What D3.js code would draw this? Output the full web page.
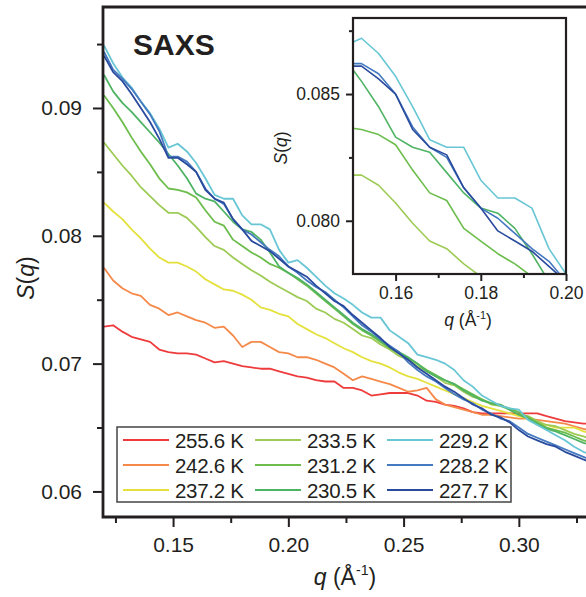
<!DOCTYPE html>
<html>
<head>
<meta charset="utf-8">
<script src="https://cdn.jsdelivr.net/npm/d3@7"></script>
<style>
  body { margin: 0; background: #fff; }
  text { font-family: "Liberation Sans", Arial, Helvetica, sans-serif; fill: #231f20; }
</style>
</head>
<body>
<svg id="chart" width="586" height="597"></svg>
<script>
// Scattering vector grid, q (1/Å)
const q = [0.120,0.124,0.128,0.132,0.136,0.140,0.144,0.148,0.152,0.156,0.160,0.164,0.168,0.172,0.176,0.180,0.184,0.188,0.192,0.196,0.200,0.204,0.208,0.212,0.216,0.220,0.224,0.228,0.232,0.236,0.240,0.244,0.248,0.252,0.256,0.260,0.264,0.268,0.272,0.276,0.280,0.284,0.288,0.292,0.296,0.300,0.304,0.308,0.312,0.316,0.320,0.324,0.328,0.332];

// S(q) per temperature
const s255_6 = [0.0729,0.0730,0.0725,0.0721,0.0719,0.0717,0.0711,0.0709,0.0708,0.0708,0.0707,0.0704,0.0701,0.0702,0.0700,0.0698,0.0697,0.0696,0.0696,0.0694,0.0692,0.0690,0.0689,0.0687,0.0686,0.0686,0.0681,0.0681,0.0679,0.0675,0.0676,0.0677,0.0677,0.0677,0.0675,0.0671,0.0670,0.0668,0.0667,0.0665,0.0662,0.0661,0.0661,0.0661,0.0661,0.0661,0.0661,0.0661,0.0659,0.0657,0.0655,0.0654,0.0653,0.0653];
const s242_6 = [0.0775,0.0765,0.0759,0.0755,0.0753,0.0746,0.0743,0.0738,0.0740,0.0737,0.0734,0.0732,0.0728,0.0729,0.0722,0.0713,0.0717,0.0717,0.0713,0.0709,0.0708,0.0705,0.0705,0.0703,0.0700,0.0697,0.0692,0.0687,0.0690,0.0688,0.0686,0.0684,0.0681,0.0678,0.0679,0.0681,0.0672,0.0668,0.0666,0.0664,0.0662,0.0660,0.0660,0.0659,0.0658,0.0657,0.0657,0.0656,0.0655,0.0654,0.0653,0.0651,0.0649,0.0647];
const s237_2 = [0.0826,0.0819,0.0813,0.0805,0.0798,0.0790,0.0783,0.0779,0.0779,0.0776,0.0772,0.0766,0.0762,0.0758,0.0757,0.0754,0.0750,0.0744,0.0742,0.0739,0.0737,0.0731,0.0727,0.0723,0.0720,0.0716,0.0712,0.0709,0.0705,0.0702,0.0700,0.0697,0.0693,0.0690,0.0688,0.0685,0.0682,0.0679,0.0676,0.0673,0.0670,0.0667,0.0665,0.0663,0.0661,0.0659,0.0657,0.0653,0.0652,0.0650,0.0650,0.0650,0.0647,0.0645];
const s233_5 = [0.0873,0.0864,0.0855,0.0847,0.0838,0.0831,0.0824,0.0818,0.0818,0.0814,0.0807,0.0799,0.0792,0.0789,0.0783,0.0778,0.0773,0.0769,0.0764,0.0760,0.0756,0.0752,0.0749,0.0743,0.0740,0.0735,0.0732,0.0727,0.0722,0.0720,0.0715,0.0711,0.0706,0.0703,0.0698,0.0694,0.0690,0.0685,0.0683,0.0678,0.0674,0.0672,0.0668,0.0667,0.0664,0.0660,0.0659,0.0655,0.0652,0.0651,0.0648,0.0645,0.0643,0.0641];
const s231_2 = [0.0910,0.0900,0.0889,0.0877,0.0866,0.0856,0.0845,0.0837,0.0836,0.0834,0.0830,0.0820,0.0811,0.0808,0.0797,0.0792,0.0787,0.0783,0.0778,0.0775,0.0771,0.0766,0.0761,0.0755,0.0749,0.0743,0.0737,0.0731,0.0726,0.0722,0.0717,0.0712,0.0708,0.0704,0.0700,0.0695,0.0691,0.0687,0.0684,0.0680,0.0676,0.0672,0.0669,0.0667,0.0665,0.0662,0.0658,0.0654,0.0650,0.0648,0.0646,0.0643,0.0640,0.0638];
const s230_5 = [0.0926,0.0913,0.0904,0.0897,0.0889,0.0881,0.0873,0.0864,0.0855,0.0845,0.0833,0.0829,0.0827,0.0819,0.0811,0.0805,0.0803,0.0797,0.0787,0.0776,0.0771,0.0767,0.0762,0.0756,0.0750,0.0744,0.0738,0.0732,0.0727,0.0723,0.0718,0.0713,0.0709,0.0705,0.0700,0.0694,0.0690,0.0687,0.0684,0.0679,0.0675,0.0671,0.0669,0.0668,0.0664,0.0660,0.0657,0.0653,0.0649,0.0647,0.0644,0.0641,0.0638,0.0636];
const s229_2 = [0.0949,0.0935,0.0924,0.0916,0.0905,0.0896,0.0884,0.0869,0.0872,0.0866,0.0857,0.0845,0.0832,0.0829,0.0829,0.0816,0.0809,0.0809,0.0805,0.0789,0.0779,0.0781,0.0775,0.0768,0.0761,0.0755,0.0751,0.0746,0.0740,0.0736,0.0736,0.0726,0.0721,0.0716,0.0707,0.0705,0.0703,0.0700,0.0695,0.0687,0.0682,0.0675,0.0671,0.0667,0.0665,0.0664,0.0656,0.0652,0.0648,0.0644,0.0640,0.0635,0.0631,0.0628];
const s228_2 = [0.0944,0.0930,0.0923,0.0915,0.0905,0.0895,0.0882,0.0862,0.0862,0.0858,0.0850,0.0837,0.0829,0.0825,0.0813,0.0805,0.0801,0.0795,0.0789,0.0784,0.0776,0.0771,0.0765,0.0760,0.0756,0.0750,0.0744,0.0737,0.0730,0.0725,0.0719,0.0714,0.0709,0.0701,0.0695,0.0690,0.0686,0.0681,0.0676,0.0672,0.0669,0.0664,0.0661,0.0657,0.0655,0.0650,0.0645,0.0642,0.0639,0.0636,0.0633,0.0630,0.0627,0.0624];
const s227_7 = [0.0941,0.0928,0.0921,0.0911,0.0900,0.0889,0.0876,0.0861,0.0861,0.0856,0.0850,0.0836,0.0829,0.0826,0.0813,0.0805,0.0796,0.0792,0.0788,0.0782,0.0776,0.0772,0.0768,0.0761,0.0755,0.0749,0.0745,0.0738,0.0732,0.0726,0.0720,0.0713,0.0708,0.0703,0.0697,0.0692,0.0687,0.0682,0.0678,0.0673,0.0668,0.0665,0.0660,0.0658,0.0654,0.0648,0.0643,0.0640,0.0637,0.0635,0.0631,0.0628,0.0625,0.0622];

const temperatures = ["255.6 K","242.6 K","237.2 K","233.5 K","231.2 K","230.5 K","229.2 K","228.2 K","227.7 K"];
const seriesValues = [s255_6, s242_6, s237_2, s233_5, s231_2, s230_5, s229_2, s228_2, s227_7];
const colors = ["#ee3b3c","#f5894a","#e4e13c","#9dcb55","#6cbd4c","#4fb364","#68c6d5","#4579c0","#2a4b9d"];
const insetSeries = [3,4,5,6,7,8];

// Tick values
const xMajor = [0.15, 0.20, 0.25, 0.30];
const xMinor = [0.125, 0.175, 0.225, 0.275, 0.325];
const yMajor = [0.06, 0.07, 0.08, 0.09];
const yMinor = [0.065, 0.075, 0.085, 0.095];
const xiMajor = [0.16, 0.18, 0.20];
const xiMinor = [0.17, 0.19];
const yiMajor = [0.080, 0.085];
const yiMinor = [0.0825, 0.0875];

const svg = d3.select("#chart");
const ink = "#231f20";

const series = temperatures.map((t, i) => ({
  label: t, color: colors[i],
  points: q.map((qv, j) => ({ q: qv, s: seriesValues[i][j] }))
}));

// ---------- main panel ----------
const L = 103, R = 588, T = 7, B = 517;
const x = d3.scaleLinear().domain([0.1196, 0.33]).range([L, R]);
const y = d3.scaleLinear().domain([0.058, 0.0979]).range([B, T]);

svg.append("defs").append("clipPath").attr("id", "mainClip")
  .append("rect").attr("x", L).attr("y", T).attr("width", R - L).attr("height", B - T);

const line = d3.line().x(d => x(d.q)).y(d => y(d.s));
svg.append("g").attr("clip-path", "url(#mainClip)")
  .selectAll("path").data(series).join("path")
  .attr("d", d => line(d.points))
  .attr("fill", "none").attr("stroke", d => d.color)
  .attr("stroke-width", 1.8).attr("stroke-linejoin", "round");

function styleAxis(g, fs) {
  g.select(".domain").remove();
  g.selectAll(".tick line").attr("stroke", ink).attr("stroke-width", 2);
  g.selectAll(".tick text").attr("font-size", fs).attr("fill", ink)
    .style("font-family", '"Liberation Sans", Arial, sans-serif');
}

svg.append("g").attr("transform", `translate(${L},0)`)
  .call(d3.axisLeft(y).tickValues(yMajor).tickSize(10).tickPadding(11).tickFormat(d3.format(".2f")))
  .call(g => styleAxis(g, 21));
svg.append("g").attr("transform", `translate(${L},0)`)
  .call(d3.axisLeft(y).tickValues(yMinor).tickSize(6).tickFormat(""))
  .call(g => styleAxis(g, 21));
svg.append("g").attr("transform", `translate(0,${B})`)
  .call(d3.axisBottom(x).tickValues(xMajor).tickSize(10).tickPadding(10).tickFormat(d3.format(".2f")))
  .call(g => styleAxis(g, 21));
svg.append("g").attr("transform", `translate(0,${B})`)
  .call(d3.axisBottom(x).tickValues(xMinor).tickSize(6).tickFormat(""))
  .call(g => styleAxis(g, 21));

// frame: left, bottom, top
svg.append("path")
  .attr("d", `M${R},${T}H${L}V${B}H${R}`)
  .attr("fill", "none").attr("stroke", ink).attr("stroke-width", 2.8);

// panel title
svg.append("text").attr("x", 133).attr("y", 55)
  .attr("font-size", 30).attr("font-weight", "bold").text("SAXS");

// axis titles
function sqLabel(sel) {
  sel.append("tspan").attr("font-style", "italic").text("S");
  sel.append("tspan").text("(");
  sel.append("tspan").attr("font-style", "italic").text("q");
  sel.append("tspan").text(")");
}
function qLabel(sel, fs) {
  sel.append("tspan").attr("font-style", "italic").text("q");
  sel.append("tspan").text(" (Å");
  sel.append("tspan").attr("font-size", fs * 0.62).attr("dy", -fs * 0.42).text("-1");
  sel.append("tspan").attr("dy", fs * 0.42).text(")");
}
svg.append("text").attr("transform", "translate(34,278) rotate(-90)")
  .attr("text-anchor", "middle").attr("font-size", 23).call(sqLabel);
svg.append("text").attr("x", 345).attr("y", 585)
  .attr("text-anchor", "middle").attr("font-size", 23).call(g => qLabel(g, 23));

// legend
const lg = svg.append("g");
lg.append("rect").attr("x", 117).attr("y", 427).attr("width", 394).attr("height", 75)
  .attr("fill", "#fff").attr("stroke", "#444").attr("stroke-width", 1.5);
const colX = [123, 255, 387];
const rowY = [440, 465, 490];
series.forEach((s, i) => {
  const cx = colX[Math.floor(i / 3)], cy = rowY[i % 3];
  lg.append("line").attr("x1", cx).attr("x2", cx + 46).attr("y1", cy).attr("y2", cy)
    .attr("stroke", s.color).attr("stroke-width", 1.8);
  lg.append("text").attr("x", cx + 52).attr("y", cy + 7.5)
    .attr("font-size", 20.5).attr("letter-spacing", -0.3).text(s.label);
});

// ---------- inset panel ----------
const iL = 353, iR = 566, iT = 18, iB = 274;
const xi = d3.scaleLinear().domain([0.15, 0.20]).range([iL, iR]);
const yi = d3.scaleLinear().domain([0.0779, 0.088]).range([iB, iT]);

svg.append("rect").attr("x", iL).attr("y", iT).attr("width", iR - iL).attr("height", iB - iT)
  .attr("fill", "#fff");
svg.select("defs").append("clipPath").attr("id", "insetClip")
  .append("rect").attr("x", iL).attr("y", iT).attr("width", iR - iL).attr("height", iB - iT);
const lineI = d3.line().x(d => xi(d.q)).y(d => yi(d.s));
svg.append("g").attr("clip-path", "url(#insetClip)")
  .selectAll("path").data(insetSeries.map(i => series[i])).join("path")
  .attr("d", d => lineI(d.points))
  .attr("fill", "none").attr("stroke", d => d.color)
  .attr("stroke-width", 1.6).attr("stroke-linejoin", "round");

svg.append("g").attr("transform", `translate(${iL},0)`)
  .call(d3.axisLeft(yi).tickValues(yiMajor).tickSize(7).tickPadding(6).tickFormat(d3.format(".3f")))
  .call(g => styleAxis(g, 17.5));
svg.append("g").attr("transform", `translate(${iL},0)`)
  .call(d3.axisLeft(yi).tickValues(yiMinor).tickSize(4).tickFormat(""))
  .call(g => styleAxis(g, 17.5));
svg.append("g").attr("transform", `translate(0,${iB})`)
  .call(d3.axisBottom(xi).tickValues(xiMajor).tickSize(7).tickPadding(6).tickFormat(d3.format(".2f")))
  .call(g => styleAxis(g, 17.5));
svg.append("g").attr("transform", `translate(0,${iB})`)
  .call(d3.axisBottom(xi).tickValues(xiMinor).tickSize(4).tickFormat(""))
  .call(g => styleAxis(g, 17.5));

svg.append("rect").attr("x", iL).attr("y", iT).attr("width", iR - iL).attr("height", iB - iT)
  .attr("fill", "none").attr("stroke", ink).attr("stroke-width", 2.2);

svg.append("text").attr("transform", "translate(287,148) rotate(-90)")
  .attr("text-anchor", "middle").attr("font-size", 17.5).call(sqLabel);
svg.append("text").attr("x", 468).attr("y", 326)
  .attr("text-anchor", "middle").attr("font-size", 17.5).call(g => qLabel(g, 17.5));
</script>
</body>
</html>
